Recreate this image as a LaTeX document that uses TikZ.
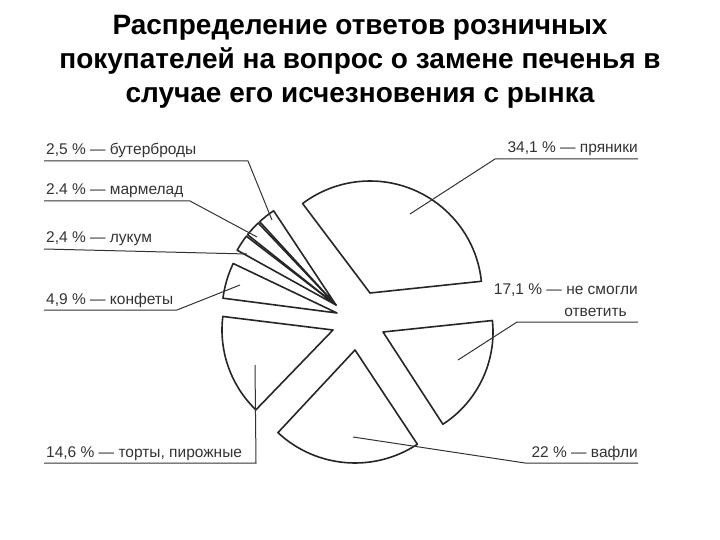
\documentclass[tikz,border=0pt]{standalone}
\usepackage{fontspec}
\setmainfont{Liberation Sans}
\begin{document}
\begin{tikzpicture}[x=1pt,y=-1pt,
  wedge/.style={draw=black!85,line width=1.6pt,line join=round,fill=white},
  lead/.style={draw=black!80,line width=1pt},
  lbl/.style={font=\fontsize{15.5}{18}\selectfont,text=black!80,inner sep=0pt},
  ttl/.style={font=\bfseries\fontsize{28}{34}\selectfont,align=center,inner sep=0pt}]
\useasboundingbox (0,0) rectangle (720,540);
\node[ttl] (title) at (360,62) {Распределение ответов розничных\\покупателей на вопрос о замене печенья в\\случае его исчезновения с рынка};
% wedges (angles negated because y points down)
\coordinate (vp) at (370,293);
\coordinate (vn) at (383,332);
\coordinate (vv) at (355,350);
\coordinate (vt) at (333,330);
\coordinate (vk) at (337,313);
\coordinate (vs) at (336,305);
\draw[wedge] (vp) -- ++(-6:112) arc (-6:-127:112) -- cycle;
\draw[wedge] (vn) -- ++(57:110) arc (57:-6:110) -- cycle;
\draw[wedge] (vv) -- ++(133:113) arc (133:56.5:113) -- cycle;
\draw[wedge] (vt) -- ++(-173:111) arc (-173:-226:111) -- cycle;
\draw[wedge] (vk) -- ++(-154.5:115) arc (-154.5:-172.6:115) -- cycle;
\draw[wedge] (vs) -- ++(-142.5:113) arc (-142.5:-151:113) -- cycle;
\draw[wedge] (vs) -- ++(-133.5:113) arc (-133.5:-141.5:113) -- cycle;
\draw[wedge] (vs) -- ++(-123.5:113) arc (-123.5:-132.5:113) -- cycle;
% labels
\node[lbl,anchor=base west] (lb) at (46,155) {2,5 \% — бутерброды};
\node[lbl,anchor=base west] (lm) at (46,195) {2.4 \% — мармелад};
\node[lbl,anchor=base west] (ll) at (46,243) {2,4 \% — лукум};
\node[lbl,anchor=base west] (lk) at (46,304) {4,9 \% — конфеты};
\node[lbl,anchor=base west] (lt) at (46,457) {14,6 \% — торты, пирожные};
\node[lbl,anchor=base east] (lp) at (638,153) {34,1 \% — пряники};
\node[lbl,anchor=base east] (ln) at (638,294) {17,1 \% — не смогли};
\node[lbl,anchor=base east] (ln2) at (627,316) {ответить};
\node[lbl,anchor=base east] (lv) at (638,457) {22 \% — вафли};
% leaders
\coordinate (b0) at (44,161); \coordinate (b1) at (248,161); \coordinate (b2) at (272,220);
\coordinate (m0) at (44,201); \coordinate (m1) at (190,201); \coordinate (m2) at (257,237);
\coordinate (k0) at (44,310); \coordinate (k1) at (177,310); \coordinate (k2) at (240,285);
\coordinate (l0) at (44,249); \coordinate (l2) at (247,254);
\coordinate (t0) at (44,463); \coordinate (t1) at (256,463); \coordinate (t2) at (255,365);
\coordinate (p0) at (638,159); \coordinate (p1) at (495,159); \coordinate (p2) at (410,214);
\coordinate (n0) at (638,322); \coordinate (n1) at (517,322); \coordinate (n2) at (458,360);
\coordinate (w0) at (638,463); \coordinate (w1) at (525,463); \coordinate (w2) at (353,437);
\draw[lead] (b0) -- (b1) -- (b2);
\draw[lead] (m0) -- (m1) -- (m2);
\draw[lead] (l0) -- (l2);
\draw[lead] (k0) -- (k1) -- (k2);
\draw[lead] (t0) -- (t1) -- (t2);
\draw[lead] (p0) -- (p1) -- (p2);
\draw[lead] (n0) -- (n1) -- (n2);
\draw[lead] (w0) -- (w1) -- (w2);
\end{tikzpicture}
\end{document}
